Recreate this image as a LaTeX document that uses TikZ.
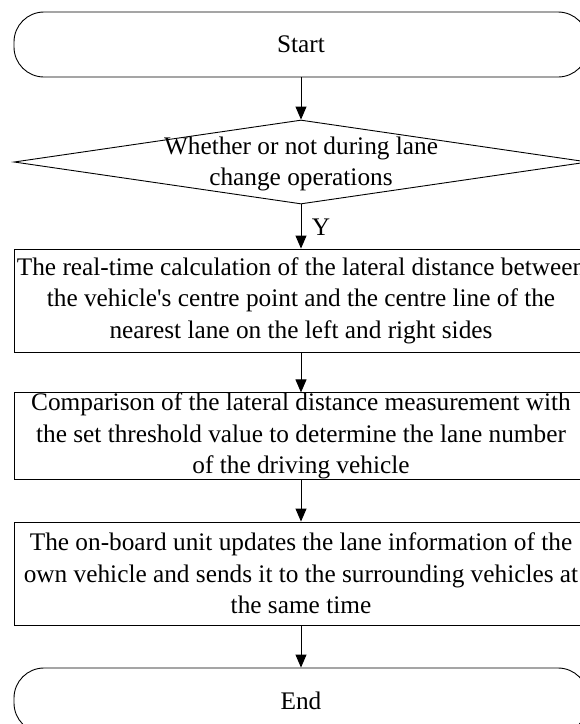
\documentclass[tikz,border=0pt]{standalone}
\usepackage{fontspec}
\setmainfont{Liberation Serif}
\usetikzlibrary{shapes.geometric,arrows.meta}
\begin{document}
\begin{tikzpicture}[x=1pt,y=-1pt,line width=0.9pt,
    every node/.style={font=\fontsize{25.3}{31.5}\selectfont},
    term/.style={draw,rounded corners=30pt,minimum width=574pt,minimum height=65pt,inner sep=0pt},
    proc/.style={draw,minimum width=574pt,inner sep=0pt,align=center},
    decide/.style={draw,diamond,minimum width=574pt,minimum height=84pt,inner sep=0pt},
    flow/.style={-{Triangle[width=11pt,length=13pt]}}]
    \useasboundingbox (0,0) rectangle (580,724);
    \clip (0,0) rectangle (580,724);
    \def\X{301}

    % terminals and steps
    \node[term] (start) at (\X,44.5) {Start};
    \node[decide,label={[align=center,yshift=-2pt]center:Whether or not during lane\\change operations}] (lanechg) at (\X,162) {};
    \node[proc,minimum height=103pt] (calc) at (\X,300.5) {The real-time calculation of the lateral distance between\\the vehicle\textquotesingle s centre point and the centre line of the\\nearest lane on the left and right sides};
    \node[proc,minimum height=84pt] (compare) at (\X,436) {Comparison of the lateral distance measurement with\\the set threshold value to determine the lane number\\of the driving vehicle};
    \node[proc,minimum height=103pt] (update) at (\X,573.5) {The on-board unit updates the lane information of the\\own vehicle and sends it to the surrounding vehicles at\\the same time};
    \node[term] (end) at (\X,700.5) {End};

    % arrows
    \draw[flow] (start) -- (lanechg);
    \draw[flow] (lanechg) -- node[right,xshift=7pt,yshift=-1pt] {Y} (calc);
    \draw[flow] (calc) -- (compare);
    \draw[flow] (compare) -- (update);
    \draw[flow] (update) -- (end);
\end{tikzpicture}
\end{document}
